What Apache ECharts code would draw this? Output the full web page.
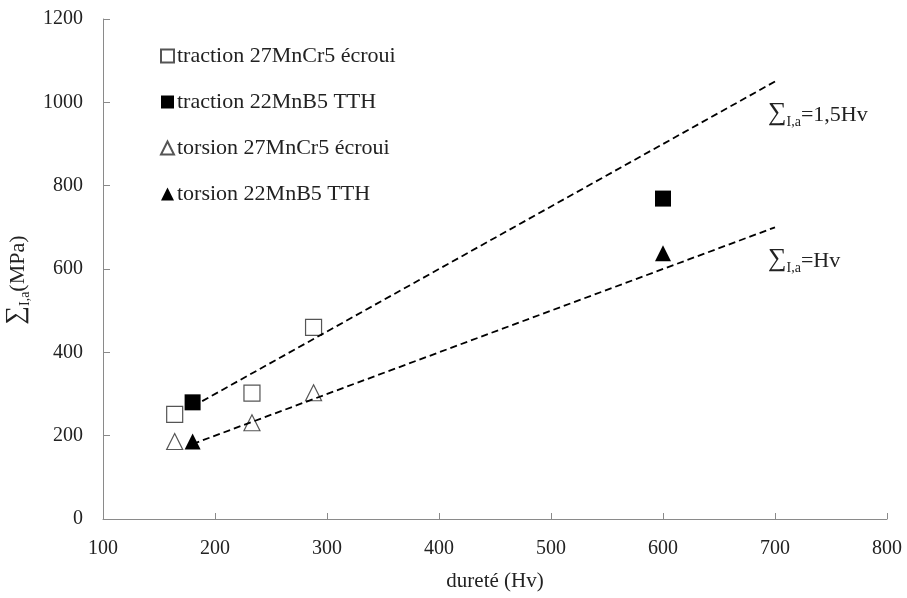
<!DOCTYPE html>
<html>
<head>
<meta charset="utf-8">
<script src="https://cdn.jsdelivr.net/npm/echarts@6/dist/echarts.min.js"></script>
<style>
  html, body { margin: 0; padding: 0; background: #fff; }
  #chart { width: 907px; height: 598px; }
</style>
</head>
<body>
<div id="chart"></div>
<script>
// Hardness (Hv) vs. stress amplitude (MPa)
const xTicks = [100, 200, 300, 400, 500, 600, 700, 800];
const yTicks = [0, 200, 400, 600, 800, 1000, 1200];

const tractionEcroui = [[164, 251], [233, 302], [288, 460]];
const tractionTTH = [[180, 280], [600, 769]];
const torsionEcroui = [[164, 186], [233, 231], [288, 303]];
const torsionTTH = [[180, 186], [600, 638]];

// Reference lines: Σ = 1,5 Hv and Σ = Hv
const lineHigh = [[180, 270], [700, 1050]];
const lineLow = [[180, 180], [700, 700]];

const seriesNames = [
  'traction 27MnCr5 écroui',
  'traction 22MnB5 TTH',
  'torsion 27MnCr5 écroui',
  'torsion 22MnB5 TTH'
];

const FONT = '"Liberation Serif", "Times New Roman", serif';
const axisGray = '#8a8a8a';

const sigmaRich = {
  s: { fontFamily: FONT, fontSize: 26, color: '#222', verticalAlign: 'bottom' },
  sub: { fontFamily: FONT, fontSize: 14, color: '#222', verticalAlign: 'bottom', padding: [0, 0, -3, 0] },
  t: { fontFamily: FONT, fontSize: 22, color: '#222', verticalAlign: 'bottom' }
};

const chart = echarts.init(document.getElementById('chart'));

function scatter(name, data, symbol, filled, size) {
  return {
    name: name,
    type: 'scatter',
    data: data,
    symbol: symbol,
    symbolSize: size,
    z: 2,
    itemStyle: {
      color: filled ? '#000' : '#fff',
      borderColor: filled ? '#000' : '#555',
      borderWidth: filled ? 0 : 1.2,
      opacity: 1
    }
  };
}

function refLine(data, text) {
  return {
    type: 'line',
    data: data,
    symbol: 'none',
    silent: true,
    z: 3,
    lineStyle: { color: '#000', width: 1.8, type: [7, 4] },
    endLabel: {
      show: true,
      formatter: text,
      offset: [-15, 32],
      rich: sigmaRich
    }
  };
}

chart.setOption({
  animation: false,
  backgroundColor: '#fff',
  grid: { left: 103, right: 20, top: 19, bottom: 79, outerBoundsMode: 'none', containLabel: false },
  legend: {
    data: seriesNames,
    orient: 'vertical',
    left: 160,
    top: 45,
    padding: 0,
    itemWidth: 13,
    itemHeight: 13,
    itemGap: 24,
    textStyle: { fontFamily: FONT, fontSize: 22, color: '#222', padding: [0, 0, 0, -2] }
  },
  xAxis: {
    type: 'value',
    min: xTicks[0],
    max: xTicks[xTicks.length - 1],
    interval: 100,
    name: 'dureté (Hv)',
    nameLocation: 'middle',
    nameGap: 52,
    nameTextStyle: { fontFamily: FONT, fontSize: 21, color: '#222' },
    axisLine: { show: true, lineStyle: { color: axisGray, width: 1 } },
    axisTick: { show: true, inside: true, length: 6, lineStyle: { color: axisGray } },
    axisLabel: { fontFamily: FONT, fontSize: 20, color: '#222', margin: 20, formatter: v => String(v) },
    splitLine: { show: false }
  },
  yAxis: {
    type: 'value',
    min: yTicks[0],
    max: yTicks[yTicks.length - 1],
    interval: 200,
    name: '{s|∑}{sub|I,a}{t|(MPa)}',
    nameLocation: 'middle',
    nameGap: 74,
    nameTextStyle: { rich: sigmaRich, padding: [0, 22, 0, 0] },
    axisLine: { show: true, lineStyle: { color: axisGray, width: 1 } },
    axisTick: { show: true, inside: true, length: 7, lineStyle: { color: axisGray } },
    axisLabel: { fontFamily: FONT, fontSize: 20, color: '#222', margin: 20, formatter: v => String(v) },
    splitLine: { show: false }
  },
  series: [
    scatter(seriesNames[0], tractionEcroui, 'rect', false, 16),
    scatter(seriesNames[1], tractionTTH, 'rect', true, 16),
    scatter(seriesNames[2], torsionEcroui, 'triangle', false, 16),
    scatter(seriesNames[3], torsionTTH, 'triangle', true, 16),
    refLine(lineHigh, '{s|∑}{sub|I,a}{t|=1,5Hv}'),
    refLine(lineLow, '{s|∑}{sub|I,a}{t|=Hv}')
  ]
});
</script>
</body>
</html>
